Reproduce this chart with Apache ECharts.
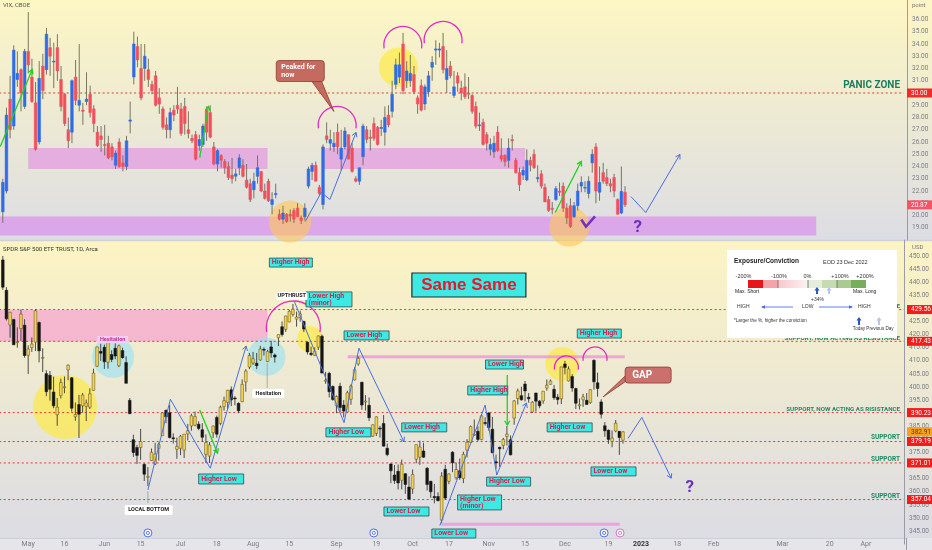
<!DOCTYPE html>
<html><head><meta charset="utf-8">
<script src="https://cdn.jsdelivr.net/npm/echarts/dist/echarts.min.js"></script>
<style>html,body{margin:0;padding:0;background:#fff}#c{width:932px;height:550px}</style>
</head><body><div id="c"></div><script>
// ---------- DATA ----------
const holidays = ['2022-05-30','2022-06-20','2022-07-04','2022-09-05','2022-11-24','2022-12-26','2023-01-02','2023-01-16','2023-02-20','2023-04-07'];
const categories = (function(){ const out=[]; const d=new Date(Date.UTC(2022,3,21));
  while(out.length<249){ const w=d.getUTCDay(); const s=d.toISOString().slice(0,10);
    if(w!==0&&w!==6&&holidays.indexOf(s)<0) out.push(s); d.setUTCDate(d.getUTCDate()+1);} return out; })();
const tickLabels = {'2022-05-02':'May','2022-05-16':'16','2022-06-01':'Jun','2022-06-15':'15','2022-07-01':'Jul','2022-07-18':'18',
 '2022-08-01':'Aug','2022-08-15':'15','2022-09-01':'Sep','2022-09-19':'19','2022-10-03':'Oct','2022-10-17':'17','2022-11-01':'Nov',
 '2022-11-15':'15','2022-12-01':'Dec','2022-12-19':'19','2023-01-03':'2023','2023-01-18':'18','2023-02-01':'Feb','2023-03-01':'Mar',
 '2023-03-20':'20','2023-04-03':'Apr'};
// SPY daily [open, high, low, close] from 2022-04-21 to 2022-12-23
const spyOHLC = [
[448.5,450.0,437.1,438.1],[436.9,438.1,425.4,426.0],[423.7,428.7,418.8,428.5],[425.8,426.0,416.0,416.1],[417.2,422.8,415.0,417.3],[422.3,429.6,417.6,427.8],[423.6,425.9,411.2,412.0],
[412.1,415.9,405.0,414.5],[415.0,418.9,413.4,416.4],[417.1,429.7,413.7,429.1],[424.6,425.0,409.4,413.8],[411.1,414.8,405.7,411.3],[405.1,406.4,396.5,398.2],[404.5,406.1,394.8,399.1],[398.1,404.0,391.9,392.8],[389.4,395.8,385.2,392.3],[396.7,403.2,395.6,401.7],[400.0,404.0,397.6,400.1],[406.5,408.6,402.6,408.3],[403.5,403.8,390.6,391.9],[388.6,394.1,387.1,389.5],[393.3,397.0,380.5,389.6],[392.8,397.7,390.2,396.9],[392.6,395.2,387.0,393.9],[392.3,399.5,391.6,397.4],[398.7,407.0,398.5,405.3],[407.9,415.4,407.7,415.3],[413.6,416.5,410.0,412.9],
[415.2,416.2,406.9,409.6],[409.4,417.4,407.0,417.4],[412.4,414.0,409.5,410.5],[414.8,416.6,410.6,411.8],[408.1,416.2,407.6,415.7],[413.9,415.0,410.8,411.2],[409.3,411.7,401.4,401.4],[394.9,395.8,389.8,389.8],[379.9,381.8,373.3,375.0],[376.9,377.9,370.6,373.9],[376.9,384.0,372.2,379.2],[370.5,370.9,364.1,366.7],[365.5,369.4,362.2,365.9],[371.9,376.5,371.8,375.1],[370.6,378.7,370.2,374.4],[376.6,378.8,371.9,378.1],[381.4,390.1,381.4,390.1],[391.1,391.4,386.2,388.6],[390.2,393.2,380.4,380.7],[380.6,382.3,378.4,380.3],[376.2,380.7,372.6,377.3],
[376.6,381.7,374.0,381.2],[375.9,382.0,372.9,382.0],[382.1,385.9,379.6,383.3],[385.1,389.8,383.3,389.0],[385.4,390.6,385.0,388.7],[385.8,386.9,383.5,384.2],[383.7,386.2,379.0,380.8],[374.3,381.9,371.0,378.8],[373.6,379.0,371.0,377.9],[382.5,385.3,380.5,385.1],[388.4,389.1,380.7,382.0],[386.1,392.9,385.4,392.3],[392.5,396.3,391.0,394.8],[394.2,398.8,391.6,398.8],[398.9,400.2,392.7,395.1],[395.8,396.5,393.0,395.6],[393.8,394.1,390.0,390.9],[394.4,402.9,394.2,401.0],[401.9,406.8,398.2,406.1],[407.6,413.0,406.8,412.0],
[409.2,413.4,408.4,410.8],[409.1,413.0,406.8,408.1],[410.3,415.7,410.0,414.5],[414.4,415.1,412.0,414.2],[409.7,414.2,409.6,413.5],[415.3,417.6,411.2,413.0],[412.2,412.8,409.3,411.4],[418.8,420.0,415.6,420.0],[423.0,425.0,419.2,420.0],[422.0,427.2,421.0,427.1],[424.8,429.4,424.7,428.9],[427.7,431.7,426.9,429.7],[425.9,428.8,423.0,426.7],[426.4,429.1,424.9,427.9],[425.0,425.3,421.0,422.1],[417.1,417.4,412.4,413.4],[412.9,415.4,411.8,412.4],[412.1,415.1,411.8,413.7],[415.2,419.6,414.1,419.5],[419.4,420.0,405.3,405.3],[402.2,405.8,401.2,402.6],[405.2,405.8,396.0,398.2],[400.2,400.6,394.8,395.2],
[392.9,396.8,390.0,396.4],[400.3,401.6,390.3,392.2],[393.1,395.0,388.4,390.8],[390.4,398.6,390.2,397.8],[395.3,401.0,393.2,400.4],[402.7,407.5,402.5,406.6],[408.8,411.7,408.1,411.0],[401.8,402.0,391.3,393.1],[394.5,396.9,391.0,394.6],[393.0,396.0,387.0,388.3],[381.2,385.6,381.0,385.6],[382.3,388.8,381.3,388.6],[384.3,385.2,380.7,384.1],[386.1,389.3,377.4,377.4],[376.6,378.4,373.6,374.2],[370.6,370.9,363.3,368.0],[366.4,370.2,363.0,364.3],[367.8,370.4,360.9,363.4],[364.4,372.3,360.9,370.5],[366.9,367.1,359.2,362.8],[361.8,365.9,357.0,357.2],
[361.1,368.5,359.2,366.6],[372.4,378.0,370.9,378.0],[373.2,379.5,370.3,377.1],[375.6,378.7,373.0,373.2],[369.0,369.4,360.5,362.8],[364.0,364.2,357.7,360.0],[358.2,363.0,355.6,357.7],[358.2,359.8,356.4,356.6],[349.2,367.5,348.1,366.0],[368.6,370.3,357.0,357.6],[364.0,367.0,362.9,366.8],[375.1,375.5,367.5,371.1],[365.4,371.2,364.6,368.5],[368.0,372.7,364.6,365.4],[365.1,375.3,363.3,374.3],[375.9,380.1,373.1,378.9],[378.8,385.3,378.7,384.9],[381.6,387.6,381.4,382.0],[383.1,385.0,379.3,380.0],[379.9,389.5,379.7,389.0],[386.4,388.4,385.3,386.2],
[390.1,390.4,383.3,384.5],[383.9,388.6,374.8,374.9],[371.5,374.2,368.8,371.0],[377.0,377.2,369.5,376.4],[377.7,380.6,376.2,380.0],[381.1,385.1,377.7,382.0],[379.9,381.5,373.9,374.1],[388.1,395.0,385.6,394.7],[395.6,399.4,393.3,398.5],[396.7,400.1,394.8,395.1],[401.1,402.3,394.5,398.5],[396.1,397.7,394.0,395.5],[390.5,394.6,390.1,394.2],[397.7,397.8,390.6,394.6],[394.6,395.0,391.9,392.8],[394.7,398.4,393.6,398.4],[399.6,402.9,398.6,400.7],[401.0,402.9,401.0,402.3],[399.1,400.8,395.1,395.9],[396.1,397.3,393.3,395.2],[395.5,407.7,393.5,407.7],
[408.8,410.0,404.8,407.4],[402.3,407.9,402.1,406.9],[404.0,404.9,398.2,399.6],[399.4,399.7,391.6,393.8],[392.9,395.6,391.4,393.2],[395.1,397.4,392.4,396.2],[394.9,397.7,393.3,393.3],[394.1,399.0,393.6,399.0],[410.2,410.5,399.0,402.0],[401.6,405.5,396.3,399.4],[394.3,395.3,388.0,389.6],[385.2,386.6,381.0,383.3],[383.5,383.8,378.3,380.0],[379.2,383.4,377.0,380.5],[383.2,387.4,382.7,386.2],[383.1,383.2,374.1,380.7],[379.7,383.1,378.4,382.9]
];
// VIX daily [open, high, low, close] same dates
const vixOHLC = [
[20.3,23.0,19.4,22.7],[22.0,28.8,21.8,28.2],[29.5,31.4,26.3,27.0],[27.3,33.9,27.0,33.5],[31.1,33.4,30.5,31.6],[31.9,32.0,28.5,30.0],[28.9,33.6,28.7,33.4],
[33.4,36.6,31.6,32.3],[31.3,32.8,29.2,29.3],[29.2,30.9,25.3,25.4],[26.0,32.6,25.8,31.2],[32.2,33.2,29.5,30.2],[31.9,35.3,31.5,34.8],[33.7,34.5,31.4,33.0],[32.6,34.1,30.4,32.6],[33.7,34.8,31.0,31.8],[31.1,32.2,28.5,28.9],[29.9,30.0,27.3,27.5],[27.0,28.0,25.5,26.1],[26.8,31.1,25.9,31.0],[31.3,32.7,29.0,29.4],[29.0,34.0,28.5,29.4],[28.6,29.2,27.4,28.5],[29.3,31.7,29.0,29.5],[29.9,30.6,28.0,28.4],[28.7,29.0,26.8,27.5],[26.8,27.3,25.6,25.7],[26.5,27.3,25.2,26.2],
[25.8,27.4,24.9,25.7],[25.9,26.5,24.6,24.7],[25.6,25.9,24.5,24.8],[24.1,25.3,23.8,25.1],[26.0,26.3,23.9,24.0],[24.3,24.9,23.6,24.0],[24.0,26.5,23.7,26.1],[27.7,29.3,26.7,27.8],[31.3,35.0,30.7,34.0],[33.8,34.6,32.1,32.7],[32.0,34.0,29.4,29.6],[32.0,34.0,31.0,33.0],[31.9,32.8,30.5,31.1],[30.7,31.0,29.9,30.2],[31.4,31.8,28.9,29.0],[29.6,30.4,28.3,29.1],[28.7,28.9,27.0,27.2],[27.4,28.0,26.3,27.0],[27.0,28.8,26.3,28.4],[28.6,29.0,27.7,28.2],[29.0,30.5,28.3,28.7],
[28.7,29.2,26.5,26.7],[28.9,29.6,26.6,27.5],[27.0,28.5,26.3,26.7],[26.3,26.6,25.9,26.1],[26.6,26.9,24.5,24.6],[25.7,26.6,25.3,26.2],[25.8,27.5,25.6,27.3],[28.6,28.9,26.1,26.8],[28.4,29.0,26.3,26.4],[25.6,26.0,24.1,24.2],[24.2,25.4,23.6,25.3],[24.9,25.0,23.9,24.5],[24.4,24.6,23.4,23.9],[24.0,24.4,22.9,23.1],[23.3,24.7,22.6,23.0],[23.2,23.8,22.8,23.4],[23.9,25.0,23.3,24.7],[24.1,24.6,23.1,23.2],[22.9,24.2,22.2,22.3],[22.6,23.0,21.1,21.3],
[22.1,23.5,21.4,22.8],[23.2,24.9,22.6,23.9],[23.6,23.6,21.9,22.0],[22.0,22.6,21.3,21.4],[22.8,23.0,21.1,21.2],[20.9,21.9,20.1,21.3],[21.7,22.6,21.4,21.8],[20.1,20.5,19.6,19.7],[19.7,20.8,19.3,20.2],[20.1,20.2,19.4,19.5],[20.1,20.5,19.5,19.95],[20.4,20.6,19.4,19.7],[20.6,21.0,19.9,19.9],[19.8,20.0,19.3,19.6],[19.9,21.0,19.6,20.6],[22.4,24.0,22.2,23.8],[23.6,24.3,22.9,24.1],[24.1,24.4,22.8,22.8],[22.3,22.5,21.6,21.8],[20.9,25.8,20.5,25.6],[26.5,27.6,25.9,26.2],[25.9,27.0,25.3,26.2],[25.6,26.8,25.2,25.9],
[26.8,27.5,25.0,25.6],[24.6,27.0,23.7,25.5],[25.6,27.2,25.4,26.9],[26.6,26.6,24.6,24.6],[25.5,25.9,23.5,23.6],[23.0,23.2,22.7,22.8],[22.8,23.9,22.5,23.9],[24.8,27.5,24.1,27.3],[27.0,27.3,25.9,26.2],[26.4,27.0,25.3,26.3],[27.5,28.0,26.1,26.3],[27.2,27.3,25.7,25.8],[27.1,27.8,26.5,27.2],[26.8,28.9,25.7,28.0],[28.2,29.0,27.2,27.4],[28.5,31.0,28.0,29.9],[30.7,32.8,30.3,32.3],[31.3,33.3,30.8,32.3],[34.0,34.9,29.9,30.2],[31.0,32.6,30.4,31.8],[31.0,33.1,30.5,31.6],
[31.5,32.2,29.9,30.1],[29.6,29.8,28.3,29.1],[30.6,31.1,28.5,28.6],[29.1,30.7,28.6,30.5],[30.1,31.8,29.7,31.4],[32.1,33.0,31.0,32.5],[33.5,34.3,32.3,33.6],[33.5,34.1,32.9,33.6],[33.8,34.9,31.6,31.9],[31.1,33.5,30.0,32.0],[32.2,32.6,31.2,31.4],[29.8,31.8,29.6,30.5],[31.4,31.7,30.1,30.8],[30.4,31.0,29.4,30.0],[30.5,31.6,29.5,29.7],[30.0,31.3,29.5,29.9],[29.8,29.9,28.3,28.5],[28.9,29.3,27.1,27.3],[27.4,28.4,26.9,27.4],[27.6,27.9,25.7,25.8],[26.6,26.8,25.3,25.9],
[25.4,26.3,24.9,25.8],[25.2,26.5,24.7,25.9],[26.8,27.3,25.2,25.3],[24.9,26.3,24.4,24.6],[24.9,25.0,24.0,24.4],[24.5,26.3,23.9,25.5],[26.2,26.6,25.3,26.1],[24.5,24.7,23.4,23.5],[23.5,23.9,22.0,22.5],[23.3,24.0,22.9,23.7],[22.9,25.4,22.8,24.5],[24.5,24.8,23.6,24.1],[25.0,25.4,23.8,23.9],[23.0,24.1,22.7,23.1],[23.4,23.7,22.2,22.4],[22.3,22.6,21.1,21.1],[21.3,21.6,20.3,20.4],[20.6,21.1,20.1,20.5],[21.3,22.4,21.2,22.2],[22.0,22.7,21.6,21.9],[22.4,22.7,20.3,20.6],
[20.6,21.0,19.3,19.8],[20.8,21.4,19.0,19.1],[19.9,21.1,19.8,20.8],[20.8,22.6,20.4,22.0],[22.4,23.2,21.9,22.7],[22.3,22.8,21.9,22.3],[21.8,23.2,21.4,22.8],[24.3,25.4,23.5,25.0],[25.6,25.9,21.0,22.0],[21.9,24.0,21.2,22.7],[23.5,24.3,22.6,22.8],[23.1,23.8,22.4,22.6],[22.6,23.0,21.9,22.4],[23.1,23.4,21.5,22.0],[21.3,21.4,20.1,20.1],[20.2,24.0,20.1,21.97],[21.9,22.4,20.7,20.87]
];
const vixTags = [[30.00,'#f32a2a'],[20.87,'#f25665']];
const spyLevels = [429.56, 417.43, 390.23, 379.19, 371.01, 357.04];
const spyLast = 382.91;
const vixPanic = 30;

// ---------- CHART ----------
const F = 'Roboto, "Liberation Sans", sans-serif';
const chart = echarts.init(document.getElementById('c'), null, {renderer:'canvas'});
function candle(upFill, downFill, upStroke, downStroke, wick) {
  return function(params, api) {
    const i = api.value(0), o = api.value(1), h = api.value(2), l = api.value(3), c = api.value(4);
    const pH = api.coord([i,h]), pL = api.coord([i,l]), pO = api.coord([i,o]), pC = api.coord([i,c]);
    const bw = api.size([1,0])[0]*0.74;
    const up = c >= o;
    const top = Math.min(pO[1],pC[1]), bot = Math.max(pO[1],pC[1]);
    return {type:'group', children:[
      {type:'line', shape:{x1:pH[0],y1:pH[1],x2:pL[0],y2:pL[1]}, style:{stroke:wick, lineWidth:0.9}},
      {type:'rect', shape:{x:pO[0]-bw/2, y:top, width:bw, height:Math.max(bot-top,0.9)},
       style:{fill:up?upFill:downFill, stroke:up?upStroke:downStroke, lineWidth:0.5}}
    ]};
  };
}
chart.setOption({
  animation:false,
  grid:[{left:1,right:25,top:0,height:240},{left:1,right:25,top:240,height:304.2}],
  xAxis:[
    {type:'category',gridIndex:0,data:categories,show:false},
    {type:'category',gridIndex:1,data:categories,axisLine:{show:false},axisTick:{show:false},splitLine:{show:false},
     axisLabel:{interval:function(i,v){return tickLabels[v]!==undefined;},
       formatter:function(v){const t=tickLabels[v]; return t==='2023'?'{b|2023}':t;},
       margin:0,verticalAlign:'middle',color:'#7a7d86',fontSize:7,fontFamily:F,
       rich:{b:{fontWeight:'bold',color:'#333',fontSize:7,fontFamily:F}}}}
  ],
  yAxis:[
    {type:'value',gridIndex:0,position:'right',min:18,max:37.59,interval:1,splitLine:{show:false},axisTick:{show:false},
     axisLine:{show:true,lineStyle:{color:'#9a9ca4'}},
     axisLabel:{margin:5,fontSize:6.5,color:'#7a7d86',fontFamily:F,formatter:function(v){return (v>=19&&v<=36)?v.toFixed(2):'';}}},
    {type:'value',gridIndex:1,position:'right',min:340,max:456.1,interval:5,splitLine:{show:false},axisTick:{show:false},
     axisLine:{show:true,lineStyle:{color:'#9a9ca4'}},
     axisLabel:{margin:5,fontSize:6.5,color:'#7a7d86',fontFamily:F,formatter:function(v){return (v>=345&&v<=450)?v.toFixed(2):'';}}}
  ],
  series:[
    {type:'custom',xAxisIndex:0,yAxisIndex:0,z:5,clip:true,renderItem:candle('#2f6ce5','#f0505c','#2f6ce5','#f0505c','#6b6a55'),
     encode:{x:0,y:[1,2,3,4]},data:vixOHLC.map(function(r,k){return [k,r[0],r[1],r[2],r[3]];})},
    {type:'custom',xAxisIndex:1,yAxisIndex:1,z:5,clip:true,renderItem:candle('#f3d354','#151515','#5a4c1a','#151515','#3a3a3a'),
     encode:{x:0,y:[1,2,3,4]},data:spyOHLC.map(function(r,k){return [k,r[0],r[1],r[2],r[3]];})}
  ]
});

// ---------- ANNOTATIONS (data coords: b = bars from 2022-05-02, v = price) ----------
const xa = chart.convertToPixel({xAxisIndex:1}, categories[0]);
const xb = chart.convertToPixel({xAxisIndex:1}, categories[1]);
const band = xb - xa;
function X(b){ return xa + (b+7)*band; }
function T(p){ return [X(p[0]), chart.convertToPixel({yAxisIndex:0}, p[1])]; }
function B(p){ return [X(p[0]), chart.convertToPixel({yAxisIndex:1}, p[1])]; }
const yT = function(v){return chart.convertToPixel({yAxisIndex:0}, v);};
const yB = function(v){return chart.convertToPixel({yAxisIndex:1}, v);};
const G = [];
const RIGHT = X(240.4);
// backgrounds
G.push({type:'rect',z:-10,shape:{x:0,y:0,width:932,height:240},style:{fill:new echarts.graphic.LinearGradient(0,0,0,1,[{offset:0,color:'#fdf6c4'},{offset:1,color:'#dcdde4'}])}});
G.push({type:'rect',z:-10,shape:{x:0,y:241,width:932,height:297},style:{fill:new echarts.graphic.LinearGradient(0,0,0,1,[{offset:0,color:'#fcf4c3'},{offset:1,color:'#dcdce4'}])}});
G.push({type:'rect',z:-10,shape:{x:0,y:538,width:932,height:12},style:{fill:'#e5e5ea'}});
G.push({type:'line',z:-9,shape:{x1:0,y1:240.5,x2:932,y2:240.5},style:{stroke:'#cfd0d8',lineWidth:1.5}});
G.push({type:'line',z:-9,shape:{x1:0,y1:538.5,x2:907,y2:538.5},style:{stroke:'#cfd0d6',lineWidth:1}});
G.push({type:'line',z:-9,shape:{x1:906.5,y1:538,x2:906.5,y2:550},style:{stroke:'#9a9ca4',lineWidth:1}});
function rectTB(P, a, b, fill, z){ const p1=P(a), p2=P(b); G.push({type:'rect',z:z||1,shape:{x:p1[0],y:Math.min(p1[1],p2[1]),width:p2[0]-p1[0],height:Math.abs(p2[1]-p1[1])},style:{fill:fill}}); }
// pink zones
rectTB(T,[0,25.5],[66,23.8],'rgba(226,140,226,0.62)');
rectTB(T,[81,25.5],[137,23.8],'rgba(226,140,226,0.62)');
rectTB(T,[-8,19.92],[217.3,18.37],'rgba(218,146,236,0.72)');
rectTB(B,[-8,429.4],[66,417.4],'rgba(246,140,210,0.55)');
function hline(P, b1, b2, v, stroke, lw, dash, z){ const p1=P([b1,v]), p2=P([b2,v]); G.push({type:'line',z:z||3,shape:{x1:p1[0],y1:p1[1],x2:p2[0],y2:p2[1]},style:{stroke:stroke,lineWidth:lw,lineDash:dash||null}}); }
hline(B,88.1,164.5,411.5,'rgba(240,150,222,0.85)',3);
hline(B,113.9,163.1,347.6,'rgba(240,150,222,0.85)',3);
// dotted levels
hline(T,-8,241.5,vixPanic,'#e53935',1,[2,2.5],4);
spyLevels.forEach(function(v){ hline(B,-8,241.5,v,'#e53935',1,[2,2.5],4); });
// circles
function circ(P,p,r,fill){ const c=P(p); G.push({type:'circle',z:2,shape:{cx:c[0],cy:c[1],r:r},style:{fill:fill}}); }
const YEL='rgba(255,234,50,0.62)', CYN='rgba(150,225,245,0.6)', ORG='rgba(255,200,90,0.62)';
circ(T,[102.1,32.1],19.5,YEL); circ(T,[72.2,19.5],21,ORG); circ(T,[149.2,19.1],20,ORG);
circ(B,[10.2,392.4],32,YEL); circ(B,[23.4,411.5],21,CYN); circ(B,[65.7,411.5],19,CYN); circ(B,[77.7,418.3],13,YEL); circ(B,[147.3,408.8],17,YEL);
// arcs
function arc(P,p,r){ const c=P(p); G.push({type:'arc',z:12,shape:{cx:c[0],cy:c[1],r:r,startAngle:Math.PI-0.15,endAngle:2*Math.PI+0.15,clockwise:true},style:{stroke:'#e52bc6',lineWidth:1.3,fill:null}}); }
arc(T,[85.2,27.35],19); arc(T,[103.3,33.88],19); arc(T,[114.4,34.29],19);
arc(B,[73.1,422.5],27); arc(B,[148.4,407.3],12); arc(B,[156.3,410.7],12);
// lines with arrows
function path(P, pts, color, lw, arrow){ const px=pts.map(P); G.push({type:'polyline',z:12,shape:{points:px},style:{stroke:color,lineWidth:lw,fill:null}});
  if(arrow){ const a=px[px.length-2], e=px[px.length-1], ang=Math.atan2(e[1]-a[1],e[0]-a[0]), s=5;
    G.push({type:'polyline',z:12,shape:{points:[[e[0]-s*Math.cos(ang-0.55),e[1]-s*Math.sin(ang-0.55)],e,[e[0]-s*Math.cos(ang+0.55),e[1]-s*Math.sin(ang+0.55)]]},style:{stroke:color,lineWidth:lw,fill:null}}); } }
const BLU='#4a6fe0', GRN='#1fd31f';
path(T,[[76.4,19.51],[80.8,21.88],[83.2,21.31],[90.4,26.78]],BLU,1,true);
path(T,[[166.2,21.55],[170.3,20.24],[179.7,24.98]],BLU,1,true);
path(T,[[-7.7,25.63],[1.1,31.92]],GRN,1.3,true);
path(T,[[47.3,24.73],[49.7,28.9]],GRN,1.3,true);
path(T,[[145.3,20.24],[152.5,24.41]],GRN,1.3,true);
path(B,[[33.0,360.7],[39.2,395.3],[50.2,369.0],[60.1,415.6]],BLU,1,true);
path(B,[[73.4,432.6],[87.1,386.4],[91.2,414.8],[103.6,379.1]],BLU,1,true);
path(B,[[113.5,347.1],[126.0,393.1],[129.2,366.4],[137.4,393.9]],BLU,1,true);
path(B,[[165.4,380.4],[169.2,388.4],[177.3,365.2]],BLU,1,true);
path(B,[[47.3,391.2],[52.2,374.8]],GRN,1.3,true);
path(B,[[132.1,404.6],[132.1,385.5]],GRN,1.3,true);
path(B,[[33.0,360.2],[33.0,355.7]],'#9a9a9a',0.8,false);
path(B,[[65.9,409.2],[65.9,399.6]],'#9a9a9a',0.8,false);
// purple marks
G.push({type:'polyline',z:12,shape:{points:[[152.5,19.67],[153.8,19.1],[156.3,19.92]].map(T)},style:{stroke:'#7033c4',lineWidth:2.6,fill:null}});
function text(x,y,s,font,fill,align,z){ G.push({type:'text',z:z||14,x:x,y:y,style:{text:s,font:font,fill:fill,align:align||'left',textAlign:align||'left',verticalAlign:'middle',textVerticalAlign:'middle'}}); }
(function(){ const p=T([168.1,19.0]); text(p[0],p[1],'?','bold 17px '+F,'#6a30c0','center'); })();
(function(){ const p=B([182.4,361.5]); text(p[0],p[1],'?','bold 17px '+F,'#6a30c0','center'); })();
// labeled boxes
function box(P, p, w, h, s, o){ const q=P(p); G.push({type:'rect',z:o.z||15,shape:{x:q[0],y:q[1],width:w,height:h,r:o.r||0},style:{fill:o.fill,stroke:o.stroke||null,lineWidth:o.lw||0.8}});
  const lines=s.split('\n'); const lh=o.lh||7;
  lines.forEach(function(t,k){ const yy=q[1]+h/2+(k-(lines.length-1)/2)*lh; text(o.left?q[0]+o.left:q[0]+w/2, yy, t, o.font, o.color, o.left?'left':'center', (o.z||15)+1); }); }
const cyanO = {fill:'#3fe9e3',stroke:'#2b4f4f',lw:0.8,font:'bold 7px '+F,color:'#d2264e',left:2.5};
[[66.5,449.2,43,9,'Higher High'],[76.6,436.3,46,15,'Lower High\n(minor)'],[87.1,421.4,45,9,'Lower High'],[82.1,384.4,45,9,'Higher Low'],
 [103.0,386.3,45,9,'Lower High'],[98.1,354.2,45,9,'Lower Low'],[111.3,345.8,44,9,'Lower Low'],[118.4,358.8,44,15,'Higher Low\n(minor)'],
 [121.2,400.4,40,9,'Higher High'],[126.1,410.3,38,9,'Lower High'],[126.4,365.6,44,9,'Higher Low'],[143.1,386.3,45,9,'Higher Low'],
 [151.4,422.1,44,9,'Higher High'],[155.2,369.5,45,9,'Lower Low'],[47.0,366.8,45,10,'Higher Low']].forEach(function(a){ box(B,[a[0],a[1]],a[2],a[3],a[4],cyanO); });
box(B,[105.8,443.5],114,24,'Same Same',{fill:'#3fe9e3',stroke:'#1e2e2e',lw:1.2,font:'bold 17px "Liberation Sans", Arial, sans-serif',color:'#e8182c'});
const whiteO={fill:'#ffffff',stroke:null,font:'bold 5.5px '+F,color:'#222',r:1.5};
box(B,[26.6,355.0],48,10,'LOCAL BOTTOM',whiteO);
box(B,[61.8,399.2],32,9,'Hesitation',whiteO);
box(B,[68.4,436.3],31,8,'UPTHRUST',whiteO);
box(B,[19.0,419.5],31,7,'Hesitation',{fill:'rgba(248,205,242,0.95)',font:'bold 5.5px '+F,color:'#b8309a'});
// callouts
(function(){ const q=T([68.4,32.65]); const tip=T([84.3,28.49]);
  G.push({type:'polygon',z:15,shape:{points:[[q[0]+35,q[1]+20],[q[0]+45,q[1]+20],tip]},style:{fill:'#c46a5e',stroke:'#8e3b32',lineWidth:0.8}});
  box(T,[68.4,32.65],48,21,'Peaked for\nnow',{fill:'#c46a5e',stroke:'#8e3b32',lw:0.8,r:3,font:'bold 7px '+F,color:'#ffffff',left:5,lh:8}); })();
(function(){ const q=B([164.6,407.6]); const tip=B([158.5,396.2]);
  G.push({type:'polygon',z:15,shape:{points:[[q[0]+1,q[1]+8],[q[0]+1,q[1]+14],tip]},style:{fill:'#c9716a',stroke:'#8e3b32',lineWidth:0.8}});
  box(B,[164.6,407.6],46,16,'GAP',{fill:'#c9716a',stroke:'#8e3b32',lw:0.8,r:3,font:'bold 10px '+F,color:'#ffffff',left:7}); })();
// event icons
[[33.0,'#4a6fe0'],[95.3,'#4a6fe0'],[158.8,'#4a6fe0'],[163.2,'#d070c8']].forEach(function(e){ const c=B([e[0],344.3]);
  G.push({type:'circle',z:12,shape:{cx:c[0],cy:c[1],r:4},style:{fill:'#ffffff',stroke:e[1],lineWidth:1}});
  G.push({type:'circle',z:13,shape:{cx:c[0],cy:c[1],r:1.6},style:{fill:null,stroke:e[1],lineWidth:0.9}}); });
// zone texts
const TG='#1d8a66';
text(RIGHT, yT(30.6), 'PANIC ZONE', 'bold 10px '+F, '#1a7d5e', 'right');
text(RIGHT, yB(391.4), 'SUPPORT, NOW ACTING AS RISISTANCE', 'bold 6.2px '+F, TG, 'right');
text(RIGHT, yB(380.9), 'SUPPORT', 'bold 6.5px '+F, TG, 'right');
text(RIGHT, yB(372.5), 'SUPPORT', 'bold 6.5px '+F, TG, 'right');
text(RIGHT, yB(358.4), 'SUPPORT', 'bold 6.5px '+F, TG, 'right');
text(RIGHT, yB(430.9), 'RESISTANCE', 'bold 6.2px '+F, TG, 'right');
text(RIGHT, yB(418.7), 'SUPPORT, NOW ACTING AS RESISTANCE', 'bold 6.2px '+F, TG, 'right');
// pane titles
text(3,5,'VIX, CBOE','6px '+F,'#555','left');
text(3,249,'SPDR S&P 500 ETF TRUST, 1D, Arca','6px '+F,'#333','left');
text(912,5,'point','6px '+F,'#777','left');
text(912,247,'USD','6px '+F,'#777','left');
// price tags
function tag(y, s, fill, fg){ G.push({type:'rect',z:20,shape:{x:907,y:y-4.5,width:25,height:9},style:{fill:fill}}); text(911,y+0.3,s,'6.5px '+F,fg||'#fff','left',21); }
vixTags.forEach(function(t){ tag(yT(t[0]), t[0].toFixed(2), t[1]); });
spyLevels.forEach(function(v){ tag(yB(v), v.toFixed(2), '#f31b1b'); });
tag(yB(spyLast), spyLast.toFixed(2), '#f6a21e', '#5a3a00');
// legend panel (overlay)
G.push({type:'rect',z:30,shape:{x:727,y:250,width:170,height:88},style:{fill:'#ffffff'}});
function L(x,y,s,font,fill,align){ text(x,y,s,font,fill||'#222',align||'left',31); }
L(734,261.5,'Exposure/Conviction','bold 6.5px "Liberation Sans", Arial, sans-serif');
L(823,262,'EOD 23 Dec 2022','5.5px "Liberation Sans", Arial, sans-serif','#333');
[[743.5,'-200%'],[779,'-100%'],[807.5,'0%'],[840,'+100%'],[865,'+200%']].forEach(function(a){ L(a[0],276,a[1],'5.5px "Liberation Sans", Arial, sans-serif','#333','center'); });
[[748,763,'#e8141c'],[763,778,'#f4a3ab'],[805,808,'#f3f3f3'],[808,822,'#e3edd9'],[822,837,'#c5dcb1'],[837,851,'#a9cb8f'],[851,866,'#77ae5b']].forEach(function(s){
  G.push({type:'rect',z:31,shape:{x:s[0],y:280,width:s[1]-s[0],height:8},style:{fill:s[2]}}); });
G.push({type:'rect',z:31,shape:{x:778,y:280,width:27,height:8},style:{fill:new echarts.graphic.LinearGradient(0,0,1,0,[{offset:0,color:'#f7c6cc'},{offset:1,color:'#fcefef'}])}});
[778,808,837].forEach(function(x){ G.push({type:'line',z:32,shape:{x1:x,y1:280,x2:x,y2:288},style:{stroke:'#666',lineWidth:0.8}}); });
L(735,291.5,'Max. Short','5px "Liberation Sans", Arial, sans-serif');
L(853,292,'Max. Long','5px "Liberation Sans", Arial, sans-serif');
function upArrow(cx, top, h, color){ G.push({type:'polygon',z:32,shape:{points:[[cx,top],[cx-2.6,top+3.6],[cx-1,top+3.6],[cx-1,top+h],[cx+1,top+h],[cx+1,top+3.6],[cx+2.6,top+3.6]]},style:{fill:color}}); }
upArrow(817,287,7,'#2f57b8'); upArrow(829,287,7,'#b9c3ee');
L(817.5,299.5,'+34%','5px "Liberation Sans", Arial, sans-serif','#333','center');
L(737,307,'HIGH','5px "Liberation Sans", Arial, sans-serif','#333');
L(802,307,'LOW','5px "Liberation Sans", Arial, sans-serif','#333');
L(858,307,'HIGH','5px "Liberation Sans", Arial, sans-serif','#333');
G.push({type:'line',z:32,shape:{x1:762,y1:307,x2:793,y2:307},style:{stroke:'#4a6fe0',lineWidth:0.9}});
G.push({type:'polygon',z:32,shape:{points:[[761,307],[765,305.3],[765,308.7]]},style:{fill:'#4a6fe0'}});
G.push({type:'line',z:32,shape:{x1:819,y1:307,x2:852,y2:307},style:{stroke:'#4a6fe0',lineWidth:0.9}});
G.push({type:'polygon',z:32,shape:{points:[[853,307],[849,305.3],[849,308.7]]},style:{fill:'#4a6fe0'}});
L(734,321,'*Larger the %, higher the conviction','4.6px "Liberation Sans", Arial, sans-serif','#333');
upArrow(859,317,8,'#2f57b8'); upArrow(879,317,8,'#b9c3ee');
L(859,329,'Today','4.6px "Liberation Sans", Arial, sans-serif','#333','center');
L(880,329,'Previous Day','4.6px "Liberation Sans", Arial, sans-serif','#333','center');

chart.setOption({graphic:{elements:G}});
</script></body></html>
